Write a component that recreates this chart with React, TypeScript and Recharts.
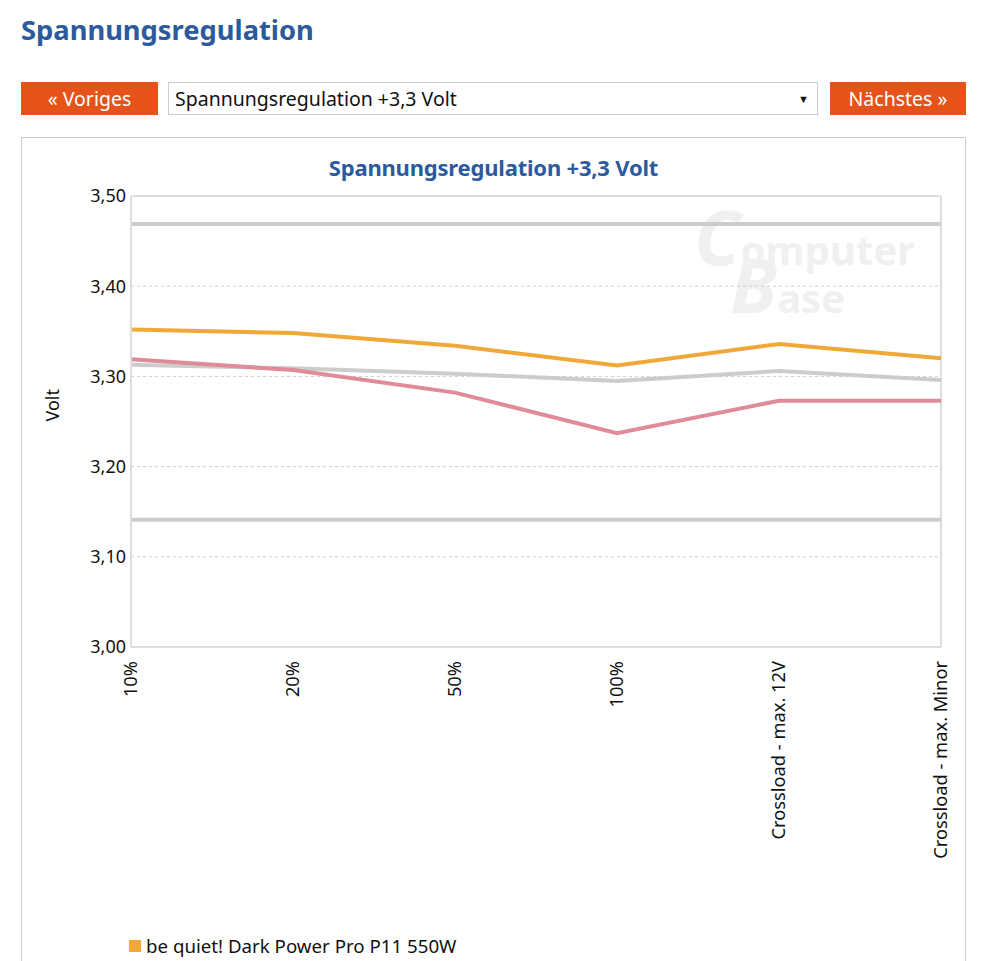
import React from 'react';
import { LineChart, Line, XAxis, YAxis, CartesianGrid, ReferenceLine } from 'recharts';

const categories = ['10%', '20%', '50%', '100%', 'Crossload - max. 12V', 'Crossload - max. Minor'];
const beQuiet = [3.352, 3.348, 3.334, 3.312, 3.336, 3.320];
const vergleichRot = [3.319, 3.307, 3.282, 3.237, 3.273, 3.273];
const vergleichGrau = [3.313, 3.309, 3.303, 3.295, 3.306, 3.296];
const obergrenze = [3.469, 3.469, 3.469, 3.469, 3.469, 3.469];
const untergrenze = [3.141, 3.141, 3.141, 3.141, 3.141, 3.141];
const yTicks = [3.0, 3.1, 3.2, 3.3, 3.4, 3.5];

const data = categories.map((c, i) => ({
  name: c,
  beQuiet: beQuiet[i],
  rot: vergleichRot[i],
  grau: vergleichGrau[i],
  ober: obergrenze[i],
  unter: untergrenze[i],
}));

const FONT = '"Noto Sans", "Open Sans", sans-serif';
const BLUE = '#2d5a9c';
const ORANGE_BTN = '#e5531a';

const XTick = (props: any) => {
  const { x, y, payload } = props;
  return (
    <text
      x={0}
      y={0}
      transform={`translate(${x},${y + 6}) rotate(-90)`}
      textAnchor="end"
      dy="0.35em"
      fill="#111"
      fontSize={18.3}
      fontFamily={FONT}
    >
      {payload.value}
    </text>
  );
};

export default function App() {
  return (
    <div style={{ position: 'fixed', left: 0, top: 0, width: 987, height: 961, background: '#fff', fontFamily: FONT, overflow: 'hidden' }}>
      <div style={{ position: 'absolute', left: 21, top: 11, fontSize: 27.3, fontWeight: 700, color: BLUE }}>Spannungsregulation</div>

      <div style={{ position: 'absolute', left: 21, top: 82, width: 137, height: 33, background: ORANGE_BTN, color: '#fff', fontSize: 19.5, display: 'flex', alignItems: 'center', justifyContent: 'center' }}>« Voriges</div>
      <div style={{ position: 'absolute', left: 168, top: 82, width: 642, height: 31, border: '1px solid #ccc', background: '#fff', color: '#111', fontSize: 19.5, display: 'flex', alignItems: 'center', paddingLeft: 6, boxSizing: 'content-box' }}>
        Spannungsregulation +3,3 Volt
        <span style={{ position: 'absolute', right: 8, top: 8, fontSize: 11, color: '#111' }}>▼</span>
      </div>
      <div style={{ position: 'absolute', left: 830, top: 82, width: 136, height: 33, background: ORANGE_BTN, color: '#fff', fontSize: 19.5, display: 'flex', alignItems: 'center', justifyContent: 'center' }}>Nächstes »</div>

      <div style={{ position: 'absolute', left: 21, top: 137, width: 943, height: 840, border: '1px solid #ccc' }} />

      <div style={{ position: 'absolute', left: 21, top: 152, width: 945, textAlign: 'center', fontSize: 22, fontWeight: 700, color: BLUE, letterSpacing: -0.2 }}>Spannungsregulation +3,3 Volt</div>

      <div style={{ position: 'absolute', left: 694, top: 214, color: '#f0f0f0', fontWeight: 700, lineHeight: '44px', height: 44, whiteSpace: 'nowrap' }}>
        <span style={{ fontSize: 76, fontStyle: 'italic' }}>C</span>
        <span style={{ fontSize: 40 }}>omputer</span>
      </div>
      <div style={{ position: 'absolute', left: 730, top: 262, color: '#f0f0f0', fontWeight: 700, lineHeight: '44px', height: 44, whiteSpace: 'nowrap' }}>
        <span style={{ fontSize: 76, fontStyle: 'italic' }}>B</span>
        <span style={{ fontSize: 40 }}>ase</span>
      </div>

      <div style={{ position: 'absolute', left: 21, top: 137 }}>
        <LineChart width={945} height={824} data={data} margin={{ top: 59, right: 25, bottom: 0, left: 0 }}>
          <CartesianGrid vertical={false} stroke="#ccc" strokeDasharray="3 3" />
          <XAxis
            dataKey="name"
            axisLine={{ stroke: '#ddd', strokeWidth: 2 }}
            tickLine={false}
            interval={0}
            height={314}
            tick={<XTick />}
          />
          <YAxis
            domain={[3.0, 3.5]}
            ticks={yTicks}
            width={110}
            axisLine={{ stroke: '#ddd', strokeWidth: 2 }}
            tickLine={false}
            tickSize={0}
            tickMargin={5}
            tick={{ fontSize: 18, fill: '#111', fontFamily: FONT }}
            tickFormatter={(v: number) => v.toFixed(2).replace('.', ',')}
            label={{ value: 'Volt', angle: -90, position: 'insideLeft', offset: 32, style: { fontSize: 18, fill: '#111', fontFamily: FONT } }}
          />
          <ReferenceLine y={3.5} stroke="#ddd" strokeWidth={2} />
          <ReferenceLine x="Crossload - max. Minor" stroke="#ddd" strokeWidth={2} />
          <Line type="linear" dataKey="ober" stroke="#cccccc" strokeWidth={4} dot={false} isAnimationActive={false} />
          <Line type="linear" dataKey="unter" stroke="#cccccc" strokeWidth={4} dot={false} isAnimationActive={false} />
          <Line type="linear" dataKey="grau" stroke="#cccccc" strokeWidth={4} dot={false} isAnimationActive={false} />
          <Line type="linear" dataKey="rot" stroke="#e08c98" strokeWidth={4} dot={false} isAnimationActive={false} />
          <Line type="linear" dataKey="beQuiet" stroke="#f0a838" strokeWidth={4} dot={false} isAnimationActive={false} />
        </LineChart>
      </div>

      <div style={{ position: 'absolute', left: 129, top: 933, display: 'flex', alignItems: 'center', fontSize: 18.7, color: '#111' }}>
        <span style={{ display: 'inline-block', width: 12, height: 12, background: '#f0a838', marginRight: 5 }} />
        be quiet! Dark Power Pro P11 550W
      </div>
    </div>
  );
}
